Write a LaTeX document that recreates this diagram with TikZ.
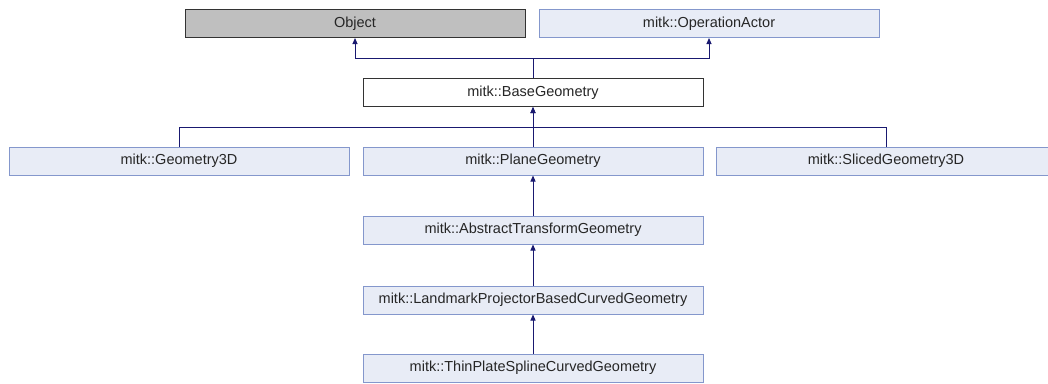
\documentclass[tikz,border=0pt]{standalone}
\usepackage{fontspec}
\setmainfont{Liberation Sans}
\usetikzlibrary{arrows.meta}
\definecolor{edgecol}{HTML}{191970}
\definecolor{nfill}{HTML}{E8ECF6}
\definecolor{nborder}{HTML}{8497CC}
\definecolor{gfill}{HTML}{BFBFBF}
\begin{document}
\begin{tikzpicture}[x=1pt,y=-1pt,
  cls/.style={draw=nborder, fill=nfill, line width=1pt, minimum width=340pt,
    minimum height=28pt, inner sep=0pt, font=\fontsize{14.5}{16}\selectfont, text=black!85},
  graycls/.style={cls, draw=black!80, fill=gfill},
  maincls/.style={cls, draw=black!80, fill=white},
  inh/.style={draw=edgecol, line width=1pt, -{Triangle[length=6pt,width=5pt]}},
  link/.style={draw=edgecol, line width=1pt}]
\useasboundingbox (0,0) rectangle (1048,383);
\clip (0,0) rectangle (1048,383);
\node[graycls] (Object) at (355,23.5) {Object};
\node[cls] (OpAct) at (709,23.5) {mitk::OperationActor};
\node[maincls] (Base) at (533,92.5) {mitk::BaseGeometry};
\node[cls] (Geo3D) at (179,161) {mitk::Geometry3D};
\node[cls] (Plane) at (533,161) {mitk::PlaneGeometry};
\node[cls] (Sliced) at (886,161) {mitk::SlicedGeometry3D};
\node[cls] (Abstract) at (533,230) {mitk::AbstractTransformGeometry};
\node[cls] (Landmark) at (533,300) {mitk::LandmarkProjectorBasedCurvedGeometry};
\node[cls] (Thin) at (533,368) {mitk::ThinPlateSplineCurvedGeometry};
\coordinate (j1) at (533,58.5);
\coordinate (j2) at (533,127);
\draw[inh] (Base.north) -- (j1) -| (Object.south);
\draw[inh] (j1) -| (OpAct.south);
\draw[inh] (Geo3D.north) |- (j2) -- (Base.south);
\draw[link] (Sliced.north) |- (j2);
\draw[inh] (Plane.north) -- (Base.south);
\draw[inh] (Abstract.north) -- (Plane.south);
\draw[inh] (Landmark.north) -- (Abstract.south);
\draw[inh] (Thin.north) -- (Landmark.south);
\end{tikzpicture}
\end{document}
